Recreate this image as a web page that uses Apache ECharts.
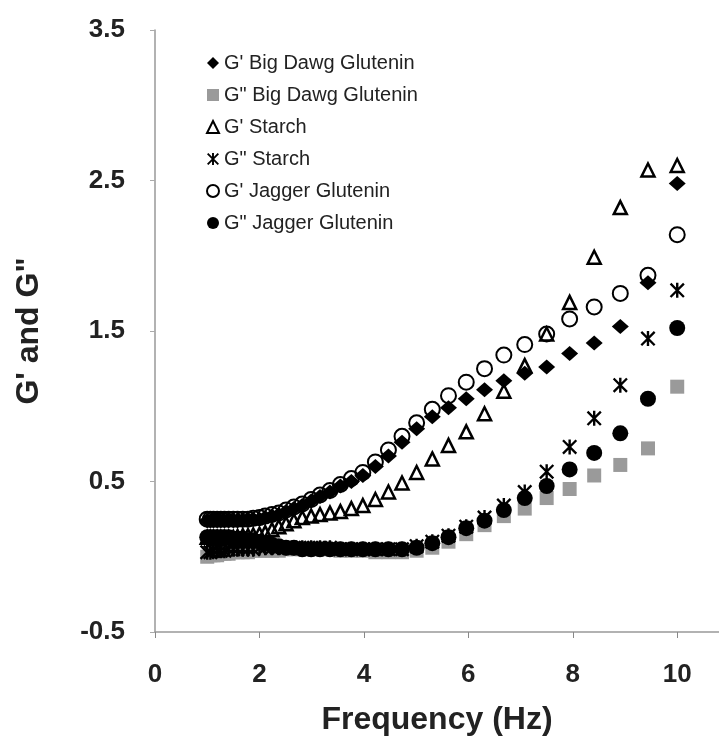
<!DOCTYPE html>
<html>
<head>
<meta charset="utf-8">
<script src="https://cdn.jsdelivr.net/npm/echarts@6/dist/echarts.min.js"></script>
<style>
  html, body { margin: 0; padding: 0; background: #fff; }
  #main { width: 719px; height: 747px; }
</style>
</head>
<body>
<div id="main"></div>
<script>
// frequency steps (Hz), log spaced
var freq = [1.00, 1.06, 1.12, 1.19, 1.26, 1.33, 1.41, 1.50, 1.58, 1.68, 1.78, 1.88, 2.00, 2.11, 2.24, 2.37, 2.51, 2.66, 2.82, 2.99,
  3.16, 3.35, 3.55, 3.76, 3.98, 4.22, 4.47, 4.73, 5.01, 5.31, 5.62, 5.96, 6.31, 6.68, 7.08, 7.50, 7.94, 8.41, 8.91, 9.44, 10.00];

var gpBigDawg = [0.24, 0.24, 0.24, 0.24, 0.24, 0.24, 0.24, 0.24, 0.24, 0.245, 0.25, 0.25, 0.25, 0.26, 0.27, 0.28, 0.30, 0.32, 0.34, 0.37,
  0.40, 0.43, 0.47, 0.50, 0.54, 0.60, 0.67, 0.76, 0.85, 0.93, 0.99, 1.05, 1.11, 1.17, 1.22, 1.26, 1.35, 1.42, 1.53, 1.82, 2.48];
var gppBigDawg = [0.00, 0.01, 0.01, 0.01, 0.02, 0.02, 0.02, 0.03, 0.03, 0.03, 0.03, 0.04, 0.04, 0.04, 0.04, 0.04, 0.05, 0.05, 0.05, 0.05,
  0.05, 0.05, 0.04, 0.04, 0.04, 0.03, 0.03, 0.03, 0.04, 0.06, 0.10, 0.15, 0.21, 0.27, 0.32, 0.39, 0.45, 0.54, 0.61, 0.72, 1.13];
var gpStarch = [0.13, 0.13, 0.13, 0.13, 0.13, 0.13, 0.13, 0.13, 0.135, 0.14, 0.14, 0.145, 0.15, 0.16, 0.18, 0.20, 0.22, 0.24, 0.26, 0.27,
  0.28, 0.29, 0.30, 0.32, 0.34, 0.38, 0.43, 0.49, 0.56, 0.65, 0.74, 0.83, 0.95, 1.10, 1.27, 1.48, 1.69, 1.99, 2.32, 2.57, 2.60];
var gppStarch = [0.03, 0.03, 0.04, 0.04, 0.04, 0.04, 0.05, 0.05, 0.05, 0.05, 0.05, 0.05, 0.06, 0.06, 0.06, 0.06, 0.06, 0.06, 0.06, 0.06,
  0.06, 0.06, 0.05, 0.05, 0.05, 0.05, 0.05, 0.05, 0.07, 0.10, 0.14, 0.20, 0.26, 0.34, 0.43, 0.565, 0.73, 0.92, 1.14, 1.45, 1.77];
var gpJagger = [0.25, 0.25, 0.25, 0.25, 0.25, 0.25, 0.25, 0.25, 0.25, 0.25, 0.25, 0.255, 0.26, 0.27, 0.28, 0.29, 0.31, 0.33, 0.35, 0.38,
  0.41, 0.44, 0.48, 0.52, 0.56, 0.63, 0.71, 0.80, 0.89, 0.98, 1.07, 1.16, 1.25, 1.34, 1.41, 1.48, 1.58, 1.66, 1.75, 1.87, 2.14];
var gppJagger = [0.13, 0.13, 0.13, 0.13, 0.13, 0.13, 0.13, 0.12, 0.12, 0.12, 0.11, 0.11, 0.10, 0.09, 0.08, 0.07, 0.06, 0.06, 0.05, 0.05,
  0.05, 0.05, 0.05, 0.05, 0.05, 0.05, 0.05, 0.05, 0.06, 0.09, 0.13, 0.19, 0.24, 0.31, 0.39, 0.47, 0.58, 0.69, 0.82, 1.05, 1.52];

var xTicks = [0, 2, 4, 6, 8, 10];
var yTicks = [-0.5, 0.5, 1.5, 2.5, 3.5];

var font = '"Liberation Sans", Arial, sans-serif';
var star = 'path://M4.2 0L5.8 0L5.8 10L4.2 10Z M0 1.1L1.1 0L10 8.9L8.9 10Z M8.9 0L10 1.1L1.1 10L0 8.9Z';

var pairs = function(ys) {
  return freq.map(function(f, i) { return [f, ys[i]]; });
};

var series = [
  { name: "G' Big Dawg Glutenin", data: gpBigDawg, symbol: 'diamond', symbolSize: [17, 15],
    itemStyle: { color: '#000' } },
  { name: 'G" Big Dawg Glutenin', data: gppBigDawg, symbol: 'rect', symbolSize: 14,
    itemStyle: { color: '#9a9a9a' } },
  { name: "G' Starch", data: gpStarch, symbol: 'triangle', symbolSize: 13,
    itemStyle: { color: 'transparent', borderColor: '#000', borderWidth: 2.5 } },
  { name: 'G" Starch', data: gppStarch, symbol: star, symbolSize: 15,
    itemStyle: { color: '#000' } },
  { name: "G' Jagger Glutenin", data: gpJagger, symbol: 'circle', symbolSize: 15,
    itemStyle: { color: 'transparent', borderColor: '#000', borderWidth: 2 } },
  { name: 'G" Jagger Glutenin', data: gppJagger, symbol: 'circle', symbolSize: 16,
    itemStyle: { color: '#000' } }
].map(function(s) {
  s.type = 'scatter';
  s.data = pairs(s.data);
  s.itemStyle.opacity = 1;
  return s;
});

var myChart = echarts.init(document.getElementById('main'), null, { renderer: 'canvas' });

var option = {
  backgroundColor: '#fff',
  animation: false,
  textStyle: { fontFamily: font },
  legend: {
    orient: 'vertical',
    left: 201,
    top: 48,
    itemWidth: 12,
    itemHeight: 12,
    itemGap: 12,
    textStyle: { fontSize: 20, lineHeight: 20, color: '#222', fontFamily: font }
  },
  grid: { left: 155, right: 0, top: 30, bottom: 115 },
  xAxis: {
    type: 'value',
    min: 0,
    max: 10.8,
    name: 'Frequency (Hz)',
    nameLocation: 'middle',
    nameGap: 72,
    nameTextStyle: { fontSize: 32, fontWeight: 'bold', color: '#222' },
    axisLine: { onZero: false, lineStyle: { color: '#999', width: 1.5 } },
    axisTick: { customValues: xTicks, length: 6, lineStyle: { color: '#888' } },
    axisLabel: { customValues: xTicks, margin: 30, fontSize: 26, fontWeight: 'bold', color: '#222' },
    splitLine: { show: false }
  },
  yAxis: {
    type: 'value',
    min: -0.5,
    max: 3.5,
    name: 'G\' and G"',
    nameLocation: 'middle',
    nameGap: 110,
    nameTextStyle: { fontSize: 32, fontWeight: 'bold', color: '#222' },
    axisLine: { show: true, lineStyle: { color: '#999', width: 1.5 } },
    axisTick: { show: true, customValues: yTicks, length: 5, lineStyle: { color: '#aaa' } },
    axisLabel: { customValues: yTicks, margin: 30, fontSize: 26, fontWeight: 'bold', color: '#222' },
    splitLine: { show: false }
  },
  series: series
};

myChart.setOption(option);
</script>
</body>
</html>
